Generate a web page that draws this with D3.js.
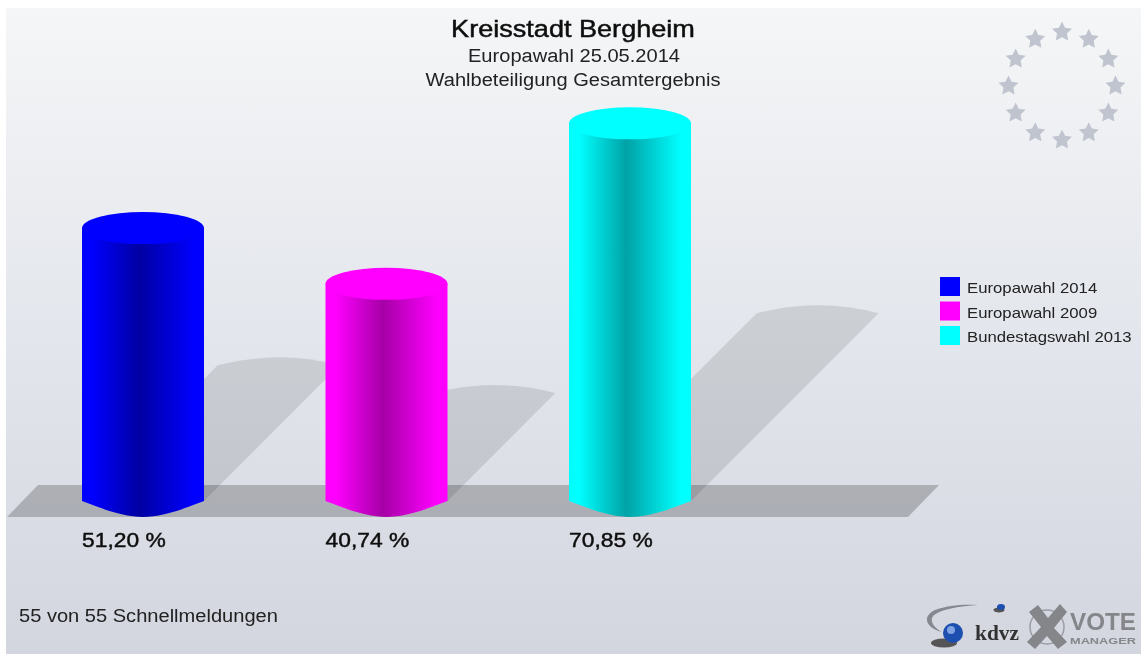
<!DOCTYPE html>
<html><head><meta charset="utf-8">
<script src="https://cdn.jsdelivr.net/npm/d3@7"></script>
<style>html,body{margin:0;padding:0;background:#fff}svg{display:block}text{font-family:"Liberation Sans",Arial,sans-serif}</style>
</head><body><div id="c"></div>
<script>
const categories=["Europawahl 2014","Europawahl 2009","Bundestagswahl 2013"];
const values=[51.20,40.74,70.85];
const valueLabels=["51,20 %","40,74 %","70,85 %"];
const colors=["#0000ff","#ff00ff","#00ffff"];
const darks=["#0000a2","#a600a6","#00a2a6"];
const titleLines=["Kreisstadt Bergheim","Europawahl 25.05.2014","Wahlbeteiligung Gesamtergebnis"];
const footer="55 von 55 Schnellmeldungen";
const W=1141,H=654;
const svg=d3.select("#c").append("svg").attr("width",W).attr("height",H);
const defs=svg.append("defs");
const bg=defs.append("linearGradient").attr("id","bg").attr("x1",0).attr("y1",0).attr("x2",0).attr("y2",1);
bg.append("stop").attr("offset",0).attr("stop-color","#f5f6f7");
bg.append("stop").attr("offset",0.5).attr("stop-color","#e3e6ec");
bg.append("stop").attr("offset",1).attr("stop-color","#d3d6df");
defs.append("filter").attr("id","soft").append("feGaussianBlur").attr("stdDeviation",0.5);
defs.append("filter").attr("id","soft2").append("feGaussianBlur").attr("stdDeviation",0.7);
categories.forEach((c,i)=>{
  const g=defs.append("linearGradient").attr("id","cyl"+i);
  g.append("stop").attr("offset",0).attr("stop-color",colors[i]);
  g.append("stop").attr("offset",0.08).attr("stop-color",colors[i]);
  g.append("stop").attr("offset",0.47).attr("stop-color",darks[i]);
  g.append("stop").attr("offset",0.92).attr("stop-color",colors[i]);
  g.append("stop").attr("offset",1).attr("stop-color",colors[i]);
});
svg.append("rect").attr("x",6).attr("y",8).attr("width",W-6).attr("height",H-8).attr("fill","url(#bg)");

// the reference's lettering is stretched sideways; widen real text by a factor
function stretch(sel,f){
  sel.each(function(){
    const n=this.getComputedTextLength();
    d3.select(this).attr("textLength",n*f).attr("lengthAdjust","spacingAndGlyphs");
  });
  return sel;
}

const x=d3.scalePoint().domain(categories).range([82,569]);
const bw=122;
const y=d3.scaleLinear().domain([0,100]).range([501,-32]);
const rx=bw/2,ry=16,shear=0.497;

// floor
svg.append("path").attr("d","M7,517L38,485L939,485L908,517Z").attr("fill","#000").attr("fill-opacity",0.21).attr("filter","url(#soft)");

// shadows: the cylinder sheared 45 degrees backwards
const sg=svg.append("g").attr("filter","url(#soft)");
categories.forEach((c,i)=>{
  const x0=x(c),h=(y(0)-y(values[i]))*shear,yb=y(0),top=yb-h,sx=x0+h;
  sg.append("path").attr("d",`M${x0},${yb}L${sx},${top}Q${sx+bw/2},${top-16} ${sx+bw},${top}L${x0+bw},${yb}Z`)
    .attr("fill","#000").attr("fill-opacity",0.105);
});

// cylinders
const cg=svg.append("g").attr("filter","url(#soft)");
categories.forEach((c,i)=>{
  const x0=x(c),yt=y(values[i]),yb=y(0);
  cg.append("path").attr("d",`M${x0},${yt}L${x0},${yb}C${x0+28},${yb+11} ${x0+45},${yb+ry} ${x0+rx},${yb+ry}C${x0+bw-45},${yb+ry} ${x0+bw-28},${yb+11} ${x0+bw},${yb}L${x0+bw},${yt}Z`).attr("fill",`url(#cyl${i})`);
  cg.append("ellipse").attr("cx",x0+rx).attr("cy",yt).attr("rx",rx).attr("ry",ry).attr("fill",colors[i]);
});

// titles
const tg=svg.append("g").attr("filter","url(#soft)").attr("text-anchor","middle").attr("fill","#111");
stretch(tg.append("text").attr("x",573).attr("y",37).attr("font-size",24.5).attr("stroke","#111").attr("stroke-width",0.5).text(titleLines[0]),1.105);
stretch(tg.append("text").attr("x",574).attr("y",62).attr("font-size",18).attr("fill","#222").text(titleLines[1]),1.115);
stretch(tg.append("text").attr("x",573).attr("y",86).attr("font-size",18).attr("fill","#222").text(titleLines[2]),1.115);

// value labels
const vg=svg.append("g").attr("filter","url(#soft)").attr("fill","#111");
categories.forEach((c,i)=>{
  stretch(vg.append("text").attr("x",x(c)).attr("y",547).attr("font-size",19.5).attr("stroke","#111").attr("stroke-width",0.45).text(valueLabels[i]),1.17);
});

// legend
const lg=svg.append("g").attr("filter","url(#soft)");
categories.forEach((c,i)=>{
  const ly=277+i*24.5;
  lg.append("rect").attr("x",940).attr("y",ly).attr("width",20).attr("height",19).attr("fill",colors[i]);
  stretch(lg.append("text").attr("x",967).attr("y",ly+16).attr("font-size",15).attr("fill","#222").text(c),1.115);
});

// footer
stretch(svg.append("text").attr("x",19).attr("y",622).attr("font-size",18).attr("fill","#222").attr("filter","url(#soft)").text(footer),1.115);

// EU stars
const starShape=d3.lineRadial().angle((d,k)=>k*Math.PI/5).radius((d,k)=>k%2?5.2:10.5).curve(d3.curveLinearClosed)(d3.range(10));
const sgr=svg.append("g").attr("transform","translate(1062,86)").attr("filter","url(#soft)");
d3.range(12).forEach(k=>{
  const t=k*30*Math.PI/180;
  sgr.append("path").attr("d",starShape).attr("transform",`translate(${53.5*Math.sin(t)},${-54*Math.cos(t)})`).attr("fill","#bfc4cf");
});

// logo
const lo=svg.append("g").attr("filter","url(#soft2)");
lo.append("path").attr("d","M942,632C925,628 922,616 935,610C947,605 965,604 978,605C960,606 942,609 934,615C929,620 933,627 942,632Z").attr("fill","#85888e");
lo.append("ellipse").attr("cx",944).attr("cy",643).attr("rx",13).attr("ry",4.5).attr("fill","#555");
lo.append("circle").attr("cx",953).attr("cy",633).attr("r",10).attr("fill","#1f4fb0");
lo.append("circle").attr("cx",951).attr("cy",630).attr("r",4).attr("fill","#7fa2e0");
lo.append("ellipse").attr("cx",999).attr("cy",610).attr("rx",5.5).attr("ry",2.5).attr("fill","#555");
lo.append("ellipse").attr("cx",1001).attr("cy",607).attr("rx",4).attr("ry",3).attr("fill","#1f4fb0");
lo.append("text").attr("x",975).attr("y",640).style("font-family","'Liberation Serif'").attr("font-size",20).attr("font-weight","bold").attr("textLength",44).attr("lengthAdjust","spacingAndGlyphs").attr("fill","#333").text("kdvz");
lo.append("circle").attr("cx",1047).attr("cy",627).attr("r",17).attr("fill","none").attr("stroke","#9a9da3").attr("stroke-width",1.5);
lo.append("path").attr("d","M1029,612L1038,605L1048,618L1060,604L1067,612L1054,628L1067,642L1058,649L1047,636L1035,649L1027,642L1041,627Z").attr("fill","#85868a");
lo.append("text").attr("x",1070).attr("y",630).attr("font-size",24).attr("font-weight","bold").attr("textLength",66).attr("lengthAdjust","spacingAndGlyphs").attr("fill","#85868a").text("VOTE");
lo.append("text").attr("x",1070).attr("y",644).attr("font-size",9.5).attr("font-weight","bold").attr("textLength",66).attr("lengthAdjust","spacingAndGlyphs").attr("fill","#85868a").text("MANAGER");
</script></body></html>
